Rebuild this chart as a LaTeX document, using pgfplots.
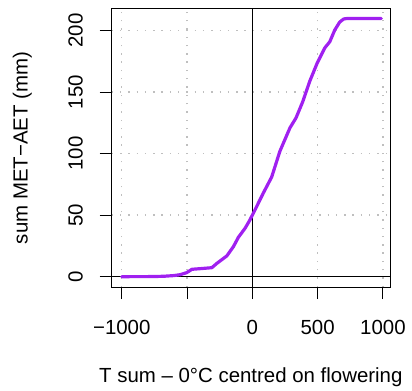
\documentclass[border=0pt]{standalone}
\usepackage{pgfplots}
\pgfplotsset{compat=1.18}
\usepackage{fontspec}
\setmainfont{Liberation Sans}
\definecolor{rpurple}{HTML}{A020F0}
\begin{document}
\begin{tikzpicture}
\begin{axis}[
  name=ax,
  scale only axis,
  width=278.3bp, height=278bp,
  xmin=-1077, xmax=1054,
  ymin=-8.4, ymax=217.6,
  axis line style={line width=1bp},
  xtick={-1000,-500,0,500,1000},
  xticklabels={−1000,,0,500,1000},
  ytick={0,50,100,150,200},
  tick align=outside,
  xtick pos=lower, ytick pos=left,
  major tick length=12bp,
  every tick/.style={black, line width=1bp},
  font=\fontsize{20.5}{24}\selectfont,
  /pgf/number format/assume math mode=true,
  xticklabel style={anchor=base, yshift=-35bp},
  yticklabel style={rotate=90, anchor=base, yshift=17bp},
  grid=major,
  grid style={gray!50, line width=1.4bp, dash pattern=on 1.4bp off 6.9bp},
  xlabel={T sum -- 0°C centred on flowering},
  ylabel={sum MET\textminus AET (mm)},
  xlabel style={at={([yshift=-95bp]axis description cs:0.5,0)}, anchor=base},
  ylabel style={at={([xshift=-84bp]axis description cs:0,0.5)}, anchor=base, rotate=0},
  clip=false,
]
\addplot[black, line width=1bp, forget plot] coordinates {(-1077,0) (1054,0)};
\addplot[black, line width=1bp, forget plot] coordinates {(0,-8.4) (0,217.6)};
\addplot[rpurple, line width=3.2bp, line join=round, line cap=round] coordinates {
(-1000,0) (-800,0.05) (-681,0.3) (-600,0.9) (-553,1.6) (-502,3.3) (-463,6) (-400,6.5) (-310,7.3)
(-272,10.8) (-196,16.8) (-145,24.4) (-107,32) (-56,39.3) (-23,45.3) (0,50)
(33,57) (84,68) (148,81) (211,102) (288,121) (334,129) (385,142) (440,159)
(496,173.5) (555,186) (593,191) (631,200.5) (669,207) (700,209.5) (720,209.8) (987,209.8)
};
\end{axis}
\pgfresetboundingbox
\path ([shift={(-111.7bp,-104bp)}]ax.south west) rectangle ([shift={(22bp,9bp)}]ax.north east);
\end{tikzpicture}
\end{document}
